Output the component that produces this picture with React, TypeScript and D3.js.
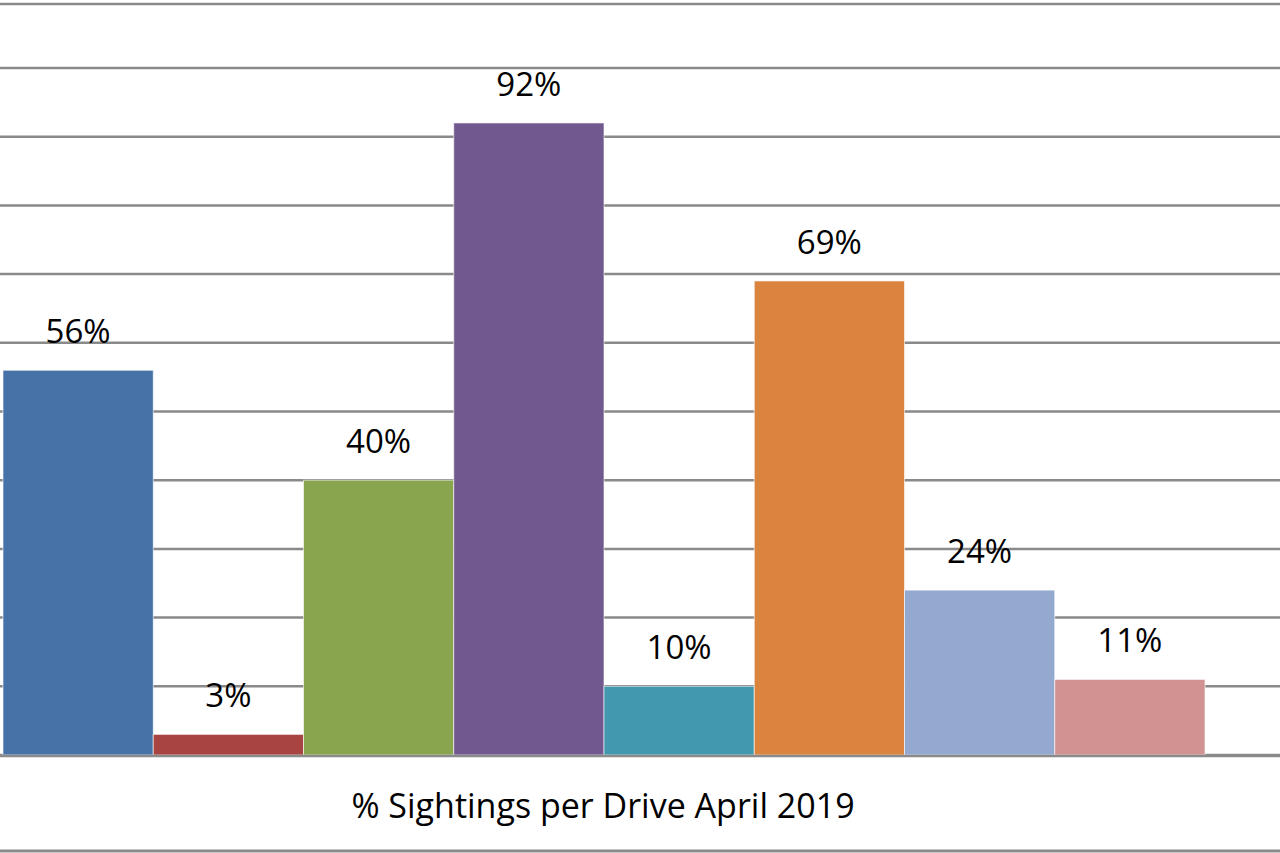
import React from "react";
import * as d3 from "d3";

const categories = ["A", "B", "C", "D", "E", "F", "G", "H"];
const values = [56, 3, 40, 92, 10, 69, 24, 11];
const colors = ["#4672A7", "#A84542", "#89A54E", "#71588F", "#4198AF", "#DB843D", "#93A9CF", "#D19392"];
const gridTicks = [0, 10, 20, 30, 40, 50, 60, 70, 80, 90, 100];
const title = "% Sightings per Drive April 2019";

export default function App() {
  const W = 1280, H = 853;
  const x = d3.scaleBand<string>().domain(categories).range([3, 1205]).padding(0);
  const y = d3.scaleLinear().domain([0, 100]).range([755, 68]);
  const font = "'Open Sans', 'Liberation Sans', sans-serif";
  return (
    <svg width={W} height={H} style={{ position: "absolute", left: 0, top: 0, background: "#fff" }}>
      <rect x={0} y={0} width={W} height={H} fill="#fff" />
      <line x1={0} x2={W} y1={4} y2={4} stroke="#8a8a8a" strokeWidth={2.5} />
      {gridTicks.map((t) => (
        <line key={t} x1={0} x2={W} y1={y(t)} y2={y(t)} stroke="#8a8a8a" strokeWidth={2.5} />
      ))}
      <line x1={0} x2={W} y1={851} y2={851} stroke="#8a8a8a" strokeWidth={3} />
      {categories.map((c, i) => (
        <rect
          key={c}
          x={x(c)!}
          y={y(values[i])}
          width={x.bandwidth()}
          height={y(0) - y(values[i])}
          fill={colors[i]}
          stroke="#ffffff"
          strokeOpacity={0.6}
          strokeWidth={1}
        />
      ))}
      <line x1={0} x2={W} y1={y(0) + 1} y2={y(0) + 1} stroke="#8a8a8a" strokeWidth={2.5} />
      {categories.map((c, i) => (
        <text
          key={c}
          x={x(c)! + x.bandwidth() / 2}
          y={y(values[i]) - 27}
          textAnchor="middle"
          fontFamily={font}
          fontSize={33}
          fill="#000"
        >
          {values[i] + "%"}
        </text>
      ))}
      <text x={603} y={818} textAnchor="middle" fontFamily={font} fontSize={34} fill="#000">
        {title}
      </text>
    </svg>
  );
}
